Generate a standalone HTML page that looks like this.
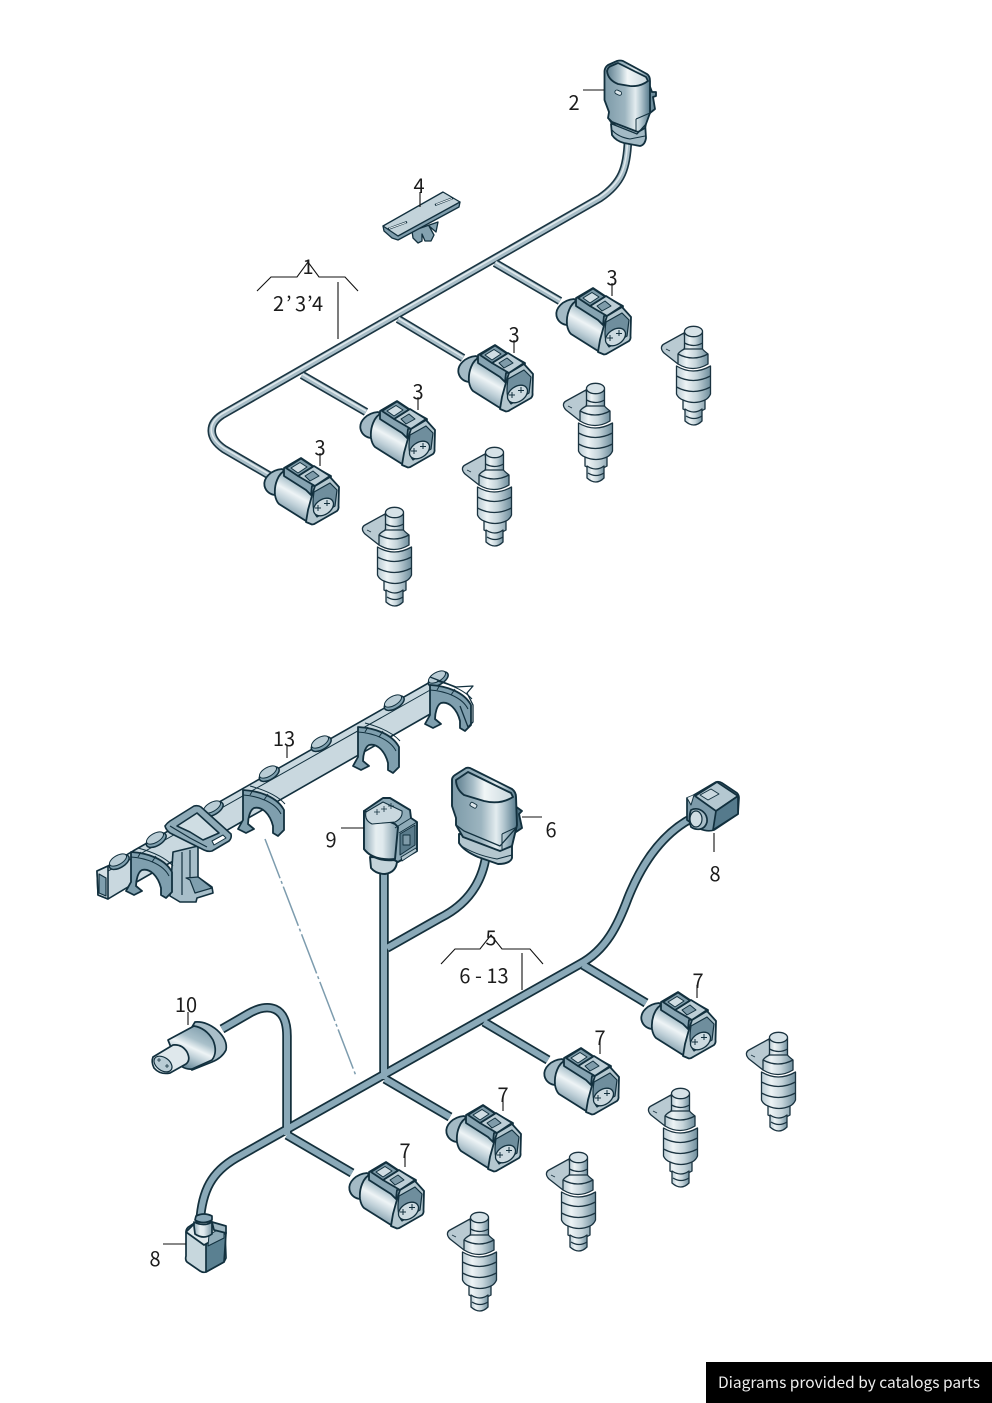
<!DOCTYPE html>
<html><head><meta charset="utf-8"><style>
html,body{margin:0;padding:0;background:#fff}
body{width:992px;height:1403px;position:relative;overflow:hidden}
svg{position:absolute;left:0;top:0}
text{font-family:"Noto Sans CJK JP","Liberation Sans",sans-serif;font-size:20px;fill:#1c1c1c;text-anchor:middle}
#ft{position:absolute;left:706px;top:1362px;width:286px;height:41px;background:#000;color:#eee;font:15.5px/41px "Noto Sans CJK JP","Liberation Sans",sans-serif;padding-left:12px;box-sizing:border-box;white-space:nowrap}
</style></head><body>
<svg width="992" height="1403" viewBox="0 0 992 1403" xmlns="http://www.w3.org/2000/svg">
<defs>
<linearGradient id="cyl" x1="0.75" y1="0" x2="0.25" y2="1"><stop offset="0" stop-color="#7f9dac"/><stop offset=".32" stop-color="#a9c0ca"/><stop offset=".5" stop-color="#eef4f6"/><stop offset=".66" stop-color="#bfd0d8"/><stop offset="1" stop-color="#4f7487"/></linearGradient>
<linearGradient id="hz" x1="0" y1="0" x2="1" y2="0"><stop offset="0" stop-color="#8fa9b5"/><stop offset=".35" stop-color="#e6eef1"/><stop offset=".55" stop-color="#dfe9ed"/><stop offset="1" stop-color="#7d9aa8"/></linearGradient>
<linearGradient id="inj" x1="0" y1="0" x2="1" y2="0"><stop offset="0" stop-color="#b9cbd3"/><stop offset=".28" stop-color="#edf3f5"/><stop offset=".6" stop-color="#c5d4da"/><stop offset="1" stop-color="#6f8e9d"/></linearGradient>
<linearGradient id="plug" x1="0" y1="0" x2="1" y2="0"><stop offset="0" stop-color="#7c9aa8"/><stop offset=".45" stop-color="#9db5c0"/><stop offset=".68" stop-color="#e3ecef"/><stop offset=".8" stop-color="#b2c6cf"/><stop offset="1" stop-color="#54788a"/></linearGradient>
<linearGradient id="hole" x1="0" y1="0" x2="1" y2="0"><stop offset="0" stop-color="#5f7f8f"/><stop offset=".3" stop-color="#a8bec8"/><stop offset=".5" stop-color="#f1f6f7"/><stop offset="1" stop-color="#c8d7dd"/></linearGradient>

<g id="inject" stroke="#1a3340" stroke-width="1.3" stroke-linejoin="round">
 <path d="M661.500,347 Q662,345 664,344 L684,333 L686,344 L678,364 L664,353 Q661,350 661.500,347 Z" fill="#b9cad2"/>
 <path d="M666,349 L670,351" stroke-width=".9" fill="none"/>
 <path d="M684.500,332 L684.500,350 L702.500,350 L702.500,332 Z" fill="url(#inj)"/>
 <ellipse cx="693.500" cy="331.500" rx="9" ry="5.200" fill="#d6e2e7"/>
 <path d="M684.500,343 Q694,348 702.500,343" fill="none"/>
 <path d="M678,354 L678,364 Q693,373 708,364 L708,354 Q703,350 702.500,349 L684.500,349 Q680,351 678,354 Z" fill="url(#inj)"/>
 <path d="M678,354 Q693,362 708,354" fill="none"/>
 <path d="M676.500,366 L676.500,394 Q678,398 683,400 L683,409 Q694,416 705,409 L705,400 Q709,398 710.500,394 L710.500,366 Q693,376 676.500,366 Z" fill="url(#inj)"/>
 <path d="M676.500,376 Q693,385 710.500,376 M676.500,387 Q693,396 710.500,387 M683,400 Q694,405 705,400" fill="none"/>
 <path d="M685,409 L685,421 Q694,429 702,421 L702,409 Q694,415 685,409 Z" fill="url(#inj)"/>
 <path d="M686,416 Q694,421 702,416" fill="none"/>
</g>

<g id="conn" stroke="#12303e" stroke-width="1.8" stroke-linejoin="round">
 <path d="M574,299 C563,300 555,308 556.500,316 C558,322 563,325 568,325 L576,318 L582,305 Z" fill="#a3bac5"/>
 <path d="M578,300 C570,303 566,315 567,325 Q568,331 571,334 L598,351 Q603,354 608,352 L614,330 L612,316 L590,304 Z" fill="url(#cyl)"/>
 <path d="M576,298 L576,306 L598,320 L603,325 L604,316 L622,314 L623,306 L605,296 L593,288 Z" fill="#86a3b1"/>
 <path d="M590,306 L606,296 L622,306 L607,316 Z" fill="#bdced6"/>
 <path d="M578,298 L593,288.500 L605,296.500 L590,306 Z" fill="#7d9aa8"/>
 <path d="M583,298 L592,292.500 L599,297 L590,303 Z" fill="#d0dde3" stroke-width="1"/>
 <path d="M597,306 L605,301 L611,306 L602,311 Z" fill="#7f9ba9" stroke-width="1"/>
 <path d="M598,352 L604,354.500 Q606,354.500 608,353 L629,341 Q631,339 630.500,336 L631,317 L622,307 L607,316 Q604,325 600,340 Z" fill="#b4c7cf"/>
 <path d="M606,322 L622,313 L629,320 L627,336 L609,347 Q603,340 606,322 Z" fill="#6f8e9d" stroke-width="1.200"/>
 <ellipse cx="615.500" cy="337" rx="11" ry="7.500" transform="rotate(-35 615.500 337)" fill="#ccdae0" stroke-width="1.300"/>
 <path d="M607,338 h6 M610,335 v6 M616,333.500 h6 M619,330 v6" fill="none" stroke-width="1"/>
</g>

<g id="clip" stroke="#12303e" stroke-width="1.800" stroke-linejoin="round">
 <path d="M243,790 C260,791 277,797 284,810 L284,830 L278,836 L273,833 L273,826 C270,814 262,806 254,808 C250,810 248,818 248,824 L254,829 L246,833 L238,829 L243,820 Z" fill="#7f9fae"/>
 <path d="M243,795 C258,796 275,802 281,814 M250,786 C265,790 278,796 285,804" fill="none" stroke-width="1"/>
 <path d="M253,790 L250,795 M268,794 L264,800" fill="none" stroke-width="1"/>
</g>
<g id="bump" stroke="#12303e" stroke-width="1.500">
 <ellipse cy="2.500" rx="11" ry="5.500" transform="rotate(-30)" fill="#7f9fae"/>
 <ellipse rx="9.500" ry="4.500" transform="rotate(-30)" fill="#b9ccd5" stroke-width="1"/>
</g>
</defs>

<!-- ========== upper harness ========== -->
<g fill="none">
 <g stroke="#1b3643" stroke-width="8.500">
  <path d="M628,140 C627,168 622,183 600,198 L222,415 C208,424 208,438 224,449 L272,477"/>
  <path d="M495,263 L560,301 M398,319 L463,358 M302,375 L366,412"/>
 </g>
 <g stroke="#a9bec8" stroke-width="5.200">
  <path d="M628,140 C627,168 622,183 600,198 L222,415 C208,424 208,438 224,449 L272,477"/>
  <path d="M495,263 L560,301 M398,319 L463,358 M302,375 L366,412"/>
 </g>
 <g stroke="#dfe8ec" stroke-width="1.600">
  <path d="M627.500,141 C626.500,168 621.500,182 599.500,197 L221.500,414 C207,424 208,437 224,448 L272,476"/>
  <path d="M495.500,262.200 L560,300 M398.500,318.200 L463,357 M302.500,374.200 L366,411"/>
 </g>
</g>

<!-- plug 2 -->
<g stroke="#12303e" stroke-width="1.800" stroke-linejoin="round">
 <path d="M649,84 L652,92 L656,92 L656,96 L653,97 L655,109 L650,113 Z" fill="#6f8e9d"/>
 <path d="M611,124 L612,135 Q616,141 624,143 L640,146 Q645,145 646,138 L645,122 Z" fill="#a3bac5"/>
 <path d="M612,130 Q618,137 630,139 L645,136" fill="none" stroke-width="1"/>
 <path d="M604.500,71 Q605,67 608,65 L617,61 Q620,60 623,61 L647,74 Q650,76 650,81 L650,113 L646,124 L645,128 L638,132 L612,122 L608,118 L609,112 L604.500,100 Z" fill="url(#plug)"/>
 <path d="M607,71 Q608,67 611,66 L618,63 L646,77 L648,81 Q640,87 630,86 L618,84 Q608,80 607,71 Z" fill="url(#hole)"/>
 <path d="M608,118 L612,124 L637,134 L646,124" fill="none" stroke-width="1.300"/>
 <path d="M636,119 L636,132 M636,119 L650,113" fill="none" stroke-width="1"/>
 <rect x="615" y="90.500" width="7" height="4" rx="2" transform="rotate(25 618 92)" fill="#dbe5ea" stroke-width=".9"/>
</g>

<!-- clip 4 -->
<g stroke="#12303e" stroke-width="1.300" stroke-linejoin="round">
 <path d="M412,231 L413,238 L418,243 L422,241 L422,234 L425,241 L431,241 L434,235 L429,226 L436,232 L438,222 L412,231 Z" fill="#84a2b0"/>
 <path d="M383,226 L384,231 L392,238 L398,240 L459,207 L460,202 Z" fill="#7f9dac"/>
 <path d="M383,226 L443,192 L460,202 L398,236 Z" fill="#c3d3da"/>
 <path d="M388,229 L407,222 M435,205 L453,198" fill="none" stroke-width="2.200"/>
 <path d="M389,228.500 L406,222.500 M436,204.500 L452,198.500" fill="none" stroke="#e9f0f3" stroke-width="1"/>
</g>

<use href="#conn"/>
<use href="#conn" x="-98" y="57"/>
<use href="#conn" x="-196" y="113"/>
<use href="#conn" x="-292" y="170"/>

<use href="#inject"/>
<use href="#inject" x="-98" y="57"/>
<use href="#inject" x="-199" y="121"/>
<use href="#inject" x="-299" y="181"/>

<!-- ========== rail 13 ========== -->
<g stroke="#12303e" stroke-width="1.600" stroke-linejoin="round">
 <path d="M97,871 L108,866 L133,851 L432,681 L432,713 L133,884 L108,899 L98,895 Z" fill="#c9d8df"/>
 <path d="M97,871 L98,895 L108,899 L108,866 Z" fill="#d5e1e6"/>
 <path d="M99,874 L99,893 L106,896 L106,878 Z" fill="#7f9fae" stroke-width="1.200"/>
 <path d="M108,871 L133,858 L432,689" fill="none" stroke-width="1"/>
</g>
<use href="#bump" x="118" y="860"/>
<use href="#bump" x="155" y="838"/>
<use href="#bump" x="212" y="807"/>
<use href="#bump" x="268" y="772"/>
<use href="#bump" x="320" y="742"/>
<use href="#bump" x="393" y="701"/>
<use href="#bump" x="437" y="677"/>
<!-- support under clip 1 -->
<g stroke="#12303e" stroke-width="1.600" stroke-linejoin="round">
 <path d="M173,852 L198,846 L198,877 L212,887 L213,893 L197,898 L196,902 L180,902 L170,896 Z" fill="#a7bec9"/>
 <path d="M182,852 L182,895 M190,850 L190,880" fill="none" stroke-width="1.200"/>
 <path d="M186,878 L198,877 L212,888 L195,893 L190,880 Z" fill="#7f9fae" stroke-width="1.200"/>
</g>
<use href="#clip" x="-112" y="62"/>
<use href="#clip"/>
<use href="#clip" x="115" y="-63"/>
<use href="#clip" x="187" y="-105"/>
<g stroke="#12303e" stroke-width="1.600" stroke-linejoin="round">
 <path d="M430,677 L456,687 L473,686 L467,693 L473,705 L473,722 L468,727 L460,706" fill="none" stroke-width="1.300"/>
 <path d="M165,826 Q167,823 170,821 L194,806 Q198,805 201,807 L231,834 Q232,838 229,841 L212,851 Q208,852 204,850 L170,833 Q166,830 165,826 Z" fill="#8eaab7"/>
 <path d="M177,826 L197,813 L219,833 L203,840 L190,832 Z" fill="#cfdde3"/>
 <path d="M212,841 L223,835 L226,838 L214,845 Z" fill="#fff" stroke-width="1"/>
 <path d="M170,826 L190,838 L207,847" fill="none" stroke-width="1.200"/>
</g>
<path d="M265,839 L356,1076" stroke="#7d9cae" stroke-width="1.500" stroke-dasharray="42 3 3 3" fill="none"/>

<!-- ========== lower harness ========== -->
<g fill="none">
 <g stroke="#14303c" stroke-width="9.500">
  <path d="M200,1222 C202,1190 212,1172 236,1158 L580,964 C606,950 618,925 628,898 C640,868 660,834 694,817"/>
  <path d="M583,965 L646,1003 M484,1022 L548,1060 M385,1079 L450,1117 M287,1135 L352,1173"/>
  <path d="M384,1079 L384,866 M387,948 L440,918 C468,904 482,882 486,856"/>
  <path d="M287,1135 L287,1036 C287,1006 268,1002 248,1014 L222,1029"/>
 </g>
 <g stroke="#8aa9b8" stroke-width="6">
  <path d="M200,1222 C202,1190 212,1172 236,1158 L580,964 C606,950 618,925 628,898 C640,868 660,834 694,817"/>
  <path d="M583,965 L646,1003 M484,1022 L548,1060 M385,1079 L450,1117 M287,1135 L352,1173"/>
  <path d="M384,1079 L384,866 M387,948 L440,918 C468,904 482,882 486,856"/>
  <path d="M287,1135 L287,1036 C287,1006 268,1002 248,1014 L222,1029"/>
 </g>
</g>

<!-- plug 6 -->
<g stroke="#12303e" stroke-width="1.900" stroke-linejoin="round">
 <path d="M515,806 L522,811 L519,814 L522,828 L516,832 Z" fill="#4f7181"/>
 <path d="M459,834 L459,843 Q464,851 478,857 L498,864 Q510,864 512,858 L512,845 L510,838 Z" fill="#b4c7cf"/>
 <path d="M460,845 Q475,855 497,859 L512,855" fill="none" stroke-width="1"/>
 <path d="M452,780 Q452,777 455,775 L466,768 Q469,767 472,769 L512,789 Q516,792 516,797 L517,825 L512,846 L500,851 L463,837 L456,825 L456,818 L452,806 Z" fill="url(#plug)"/>
 <path d="M456,780 L468,772 L511,793 L513,797 Q500,805 484,801 L464,795 Q456,789 456,780 Z" fill="url(#hole)"/>
 <path d="M456,825 L464,831 L500,846 L516,828" fill="none" stroke-width="1.300"/>
 <path d="M502,834 L502,849 M502,834 L517,827" fill="none" stroke-width="1"/>
 <rect x="470" y="803" width="7" height="4" rx="1.500" transform="rotate(30 473 805)" fill="#dbe5ea" stroke-width=".9"/>
</g>

<!-- plug 9 -->
<g stroke="#12303e" stroke-width="1.900" stroke-linejoin="round">
 <path d="M370,857 L371,868 Q376,874 385,874 Q398,872 397,858 Z" fill="#c3d3da"/>
 <path d="M364,811 L364,849 Q375,862 394,860 L398,862 L417,851 L417,822 L411,818 L410,810 L390,798 L383,798 Z" fill="#8fabb8"/>
 <path d="M364,811 L364,849 Q373,861 395,859 L398,827 L395,824 Z" fill="url(#hz)"/>
 <path d="M366,812 L383,802 L402,811 Q403,818 395,822 L372,824 Q364,820 366,812 Z" fill="#c9d8df" stroke-width="1.100"/>
 <path d="M395,828 L411,818 M399,833 L417,822" fill="none" stroke-width="1"/>
 <path d="M400,834 L415,825 L415,845 L400,855 Z" fill="#5b7c8c" stroke-width="1"/>
 <rect x="403" y="835" width="7" height="10" fill="#7f9ba9" stroke-width=".9"/>
 <path d="M401,857 L416,848 L417,851 L402,861 Z" fill="#b4c7cf" stroke-width="1"/>
 <path d="M374,812 h6 M377,809 v6 M381,809 h6 M384,806 v6 M388,806 h6 M391,803 v6" fill="none" stroke-width=".8"/>
</g>

<!-- plug 8 top right -->
<g stroke="#12303e" stroke-width="1.700" stroke-linejoin="round">
 <path d="M687,798 L692,796 L694,795 L716,782 Q719,781 722,783 L737,793 Q739,795 739,798 L738,814 L714,830 Q708,832 700,829 L687,820 Z" fill="#7d9baa"/>
 <path d="M695,796 L717,782 L738,796 L716,811 Z" fill="#b4c8d1"/>
 <path d="M700,795 L711,789 L719,794 L708,800 Z" fill="#c9d8df" stroke-width=".9"/>
 <path d="M716,811 L713,830 L738,814 L738,796 Z" fill="#557a8c"/>
 <path d="M691,810 C699,806 708,813 707,822 C705,830 697,831 691,827 C689,822 689,815 691,810 Z" fill="#a9bec8"/>
 <ellipse cx="696" cy="819" rx="6" ry="8" fill="#cfdce2" stroke-width="1.200"/>
 <path d="M687,798 L691,805 L694,795" fill="#e4ecef" stroke-width="1"/>
</g>

<!-- plug 8 bottom left -->
<g stroke="#12303e" stroke-width="1.700" stroke-linejoin="round">
 <path d="M186,1232 Q186,1228 190,1226 L196,1222 L212,1222 L225,1231 L226,1258 L224,1262 L206,1272 Q203,1273 200,1271 L187,1262 Q185,1260 186,1256 Z" fill="#c7d7dd"/>
 <path d="M206,1243 L206,1272 L224,1262 L226,1233 Z" fill="#5a8091"/>
 <path d="M186,1232 L204,1245 L226,1233 L212,1222 L196,1222 Z" fill="#e0e9ed"/>
 <path d="M209,1235 L224,1226 L224,1238 L208,1246 Z" fill="#8fabb8" stroke-width="1"/>
 <path d="M212,1222 L226,1226 L226,1233 L214,1230 Z" fill="#9db5c0"/>
 <path d="M194,1226 L195,1234 Q204,1240 212,1234 L212,1222 Q204,1227 194,1222 Z" fill="url(#hz)"/>
 <path d="M195,1220 Q203,1225 212,1220 L212,1216 Q204,1212 196,1216 Z" fill="#86a5b5"/>
</g>

<!-- sensor 10 -->
<g stroke="#12303e" stroke-width="1.700" stroke-linejoin="round">
 <path d="M195,1022 Q206,1021 217,1030 Q228,1040 226,1050 Q222,1058 212,1062 L192,1070 Q176,1052 195,1022 Z" fill="#a9bec8"/>
 <path d="M168,1040 L194,1026 Q206,1028 213,1040 Q218,1052 212,1060 L192,1069 Q182,1070 176,1060 Z" fill="url(#cyl)"/>
 <path d="M153,1057 L173,1045 Q182,1044 187,1052 Q191,1060 186,1064 L170,1073 Q160,1075 154,1068 Q151,1062 153,1057 Z" fill="#dfe8ec"/>
 <ellipse cx="163" cy="1064" rx="10" ry="6.500" transform="rotate(35 163 1064)" fill="#b9ccd5" stroke-width="1.200"/>
 <path d="M157,1060 h4 M159,1058 v4 M165,1066 h4 M167,1064 v4" fill="none" stroke-width=".8"/>
</g>

<use href="#conn" x="85" y="704"/>
<use href="#conn" x="-12" y="760"/>
<use href="#conn" x="-110" y="817"/>
<use href="#conn" x="-207" y="874"/>

<use href="#inject" x="85" y="706"/>
<use href="#inject" x="-13" y="762"/>
<use href="#inject" x="-115" y="826"/>
<use href="#inject" x="-214" y="886"/>

<!-- leaders -->
<g fill="none" stroke="#111" stroke-width="1.100">
 <path d="M583,90 H604 M612,283 V296 M514,340 V353 M418,397 V410 M320,453 V466"/>
 <path d="M420,192 V207"/>
 <path d="M257,291 L271,277 H297 L308,262 L319,277 H345 L358,291 M338,282 V339"/>
 <path d="M287,745 V758"/>
 <path d="M341,828 H364 M522,817 H542 M714,833 V852"/>
 <path d="M441,964 L455,949 H480 L491,935 L502,949 H530 L543,964 M522,953 V990"/>
 <path d="M697,985 V998 M600,1041 V1054 M503,1098 V1111 M405,1154 V1167"/>
 <path d="M188,1012 V1025 M163,1244 H186"/>
</g>

<!-- labels -->
<text x="574" y="110">2</text>
<text x="612" y="285">3</text>
<text x="514" y="342">3</text>
<text x="418" y="399">3</text>
<text x="320" y="455">3</text>
<text x="419" y="193">4</text>
<text x="308" y="274">1</text>
<text x="273 286 295 307 312" y="311" style="text-anchor:start">2’3’4</text>
<text x="284" y="746">13</text>
<text x="331" y="847">9</text>
<text x="551" y="837">6</text>
<text x="715" y="881">8</text>
<text x="491" y="945">5</text>
<text x="484" y="983">6 - 13</text>
<text x="698" y="988">7</text>
<text x="600" y="1045">7</text>
<text x="503" y="1102">7</text>
<text x="405" y="1158">7</text>
<text x="186" y="1012">10</text>
<text x="155" y="1266">8</text>
</svg>
<div id="ft">Diagrams provided by catalogs parts</div>
</body></html>
